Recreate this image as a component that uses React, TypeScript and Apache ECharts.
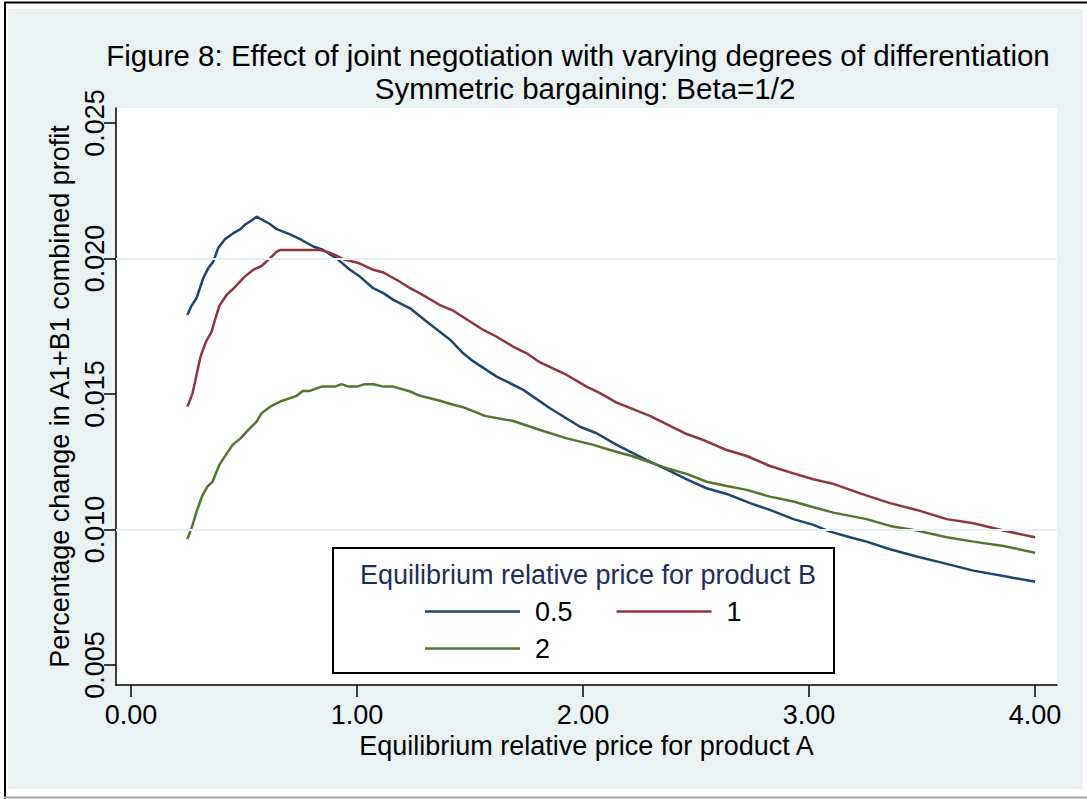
import React, { useEffect, useRef } from "react";
import * as echarts from "echarts";

const titleText = "Figure 8: Effect of joint negotiation with varying degrees of differentiation";
const subtitleText = "Symmetric bargaining: Beta=1/2";
const xAxisName = "Equilibrium relative price for product A";
const yAxisName = "Percentage change in A1+B1 combined profit";
const legendTitle = "Equilibrium relative price for product B";

const xTicks = [0, 1, 2, 3, 4];
const yTicks = [0.005, 0.01, 0.015, 0.02, 0.025];
const yGrid = [0.01, 0.015, 0.02];

const seriesNames = ["0.5", "1", "2"];

const xHalf = [0.25,0.268,0.29,0.32,0.342,0.364,0.386,0.416,0.453,0.485,0.504,0.534,0.556,0.615,0.645,0.704,0.755,0.807,0.851,0.91,0.969,1.013,1.072,1.117,1.161,1.235,1.308,1.412,1.47,1.515,1.618,1.736,1.854,1.987,2.06,2.149,2.282,2.37,2.459,2.547,2.636,2.739,2.827,2.931,3.019,3.093,3.181,3.255,3.358,3.476,3.609,3.727,3.86,4.0];
const yHalf = [0.01792,0.01825,0.01853,0.01927,0.01964,0.01988,0.02038,0.02071,0.02093,0.02108,0.02124,0.0214,0.02154,0.02127,0.02108,0.02089,0.02068,0.02044,0.02031,0.02,0.01958,0.01933,0.0189,0.01872,0.01847,0.01816,0.01767,0.017,0.0165,0.0162,0.01564,0.01515,0.01447,0.01379,0.01355,0.01312,0.01256,0.01222,0.01185,0.01152,0.01131,0.01097,0.01072,0.01038,0.01017,0.00992,0.00971,0.00955,0.00927,0.009,0.00873,0.00848,0.00828,0.00807];

const xOne = [0.25,0.273,0.29,0.308,0.332,0.357,0.372,0.391,0.423,0.46,0.5,0.541,0.578,0.615,0.645,0.659,0.836,0.866,0.903,0.94,0.984,1.013,1.072,1.117,1.19,1.235,1.279,1.367,1.426,1.559,1.618,1.692,1.751,1.81,1.928,2.016,2.075,2.149,2.296,2.459,2.532,2.636,2.724,2.827,2.931,3.019,3.108,3.226,3.358,3.476,3.609,3.727,3.86,4.0];
const yOne = [0.01453,0.01503,0.0157,0.01638,0.01693,0.0173,0.01773,0.01825,0.01865,0.01894,0.0193,0.01958,0.01972,0.02,0.02025,0.02031,0.02031,0.02025,0.02013,0.01997,0.01988,0.01981,0.01958,0.01948,0.01914,0.0189,0.01871,0.01828,0.01807,0.01736,0.01711,0.01674,0.0165,0.01616,0.0157,0.01527,0.01503,0.01468,0.01419,0.01352,0.0133,0.01293,0.01271,0.01234,0.01207,0.01185,0.01168,0.01133,0.01097,0.01072,0.01038,0.01023,0.00996,0.00971];

const xTwo = [0.25,0.273,0.293,0.317,0.338,0.361,0.391,0.42,0.45,0.485,0.512,0.556,0.578,0.622,0.667,0.733,0.76,0.792,0.844,0.903,0.932,0.962,1.0,1.035,1.072,1.117,1.161,1.235,1.279,1.367,1.426,1.47,1.566,1.692,1.81,1.928,2.046,2.12,2.223,2.37,2.459,2.547,2.636,2.724,2.827,2.931,3.019,3.108,3.255,3.358,3.476,3.609,3.727,3.86,4.0];
const yTwo = [0.00964,0.01017,0.01072,0.01127,0.01158,0.01176,0.01238,0.01275,0.01312,0.01336,0.01361,0.01398,0.01429,0.01456,0.01474,0.01493,0.01511,0.01511,0.01527,0.01527,0.01536,0.01527,0.01527,0.01536,0.01536,0.01527,0.01527,0.01509,0.01493,0.01475,0.0146,0.01451,0.01419,0.014,0.01367,0.01336,0.01312,0.01293,0.01269,0.01226,0.01205,0.01176,0.0116,0.01146,0.01121,0.01103,0.01082,0.01062,0.01038,0.01013,0.00996,0.00971,0.00955,0.00939,0.00914];

const colors = ["#1a476f", "#90353b", "#55752f"];
const FONT = "'Liberation Sans', Arial, sans-serif";

const zip = (xs: number[], ys: number[]) => xs.map((x, i) => [x, ys[i]]);

export default function App() {
  const ref = useRef<HTMLDivElement>(null);
  useEffect(() => {
    if (!ref.current) return;
    const chart = echarts.init(ref.current, null, { renderer: "svg" });
    const lineSeries = [zip(xHalf, yHalf), zip(xOne, yOne), zip(xTwo, yTwo)].map((d, i) => ({
      name: seriesNames[i],
      type: "line",
      data: d,
      showSymbol: false,
      symbol: "none",
      z: 3,
      lineStyle: { color: colors[i], width: 2.5 },
      itemStyle: { color: colors[i] },
    }));
    const legendBase = {
      icon: "rect",
      itemWidth: 95,
      itemHeight: 2.5,
      selectedMode: false,
      orient: "horizontal",
      textStyle: { fontFamily: FONT, fontSize: 27, color: "#000", padding: [0, 0, 0, 10] },
      z: 6,
    };
    const titleStyle = { fontFamily: FONT, fontSize: 29.5, lineHeight: 29, fontWeight: "normal", color: "#000" };
    chart.setOption({
      animation: false,
      backgroundColor: "#ffffff",
      title: [
        { text: titleText, left: 578, top: 41, padding: 0, textAlign: "center", textStyle: titleStyle },
        { text: subtitleText, left: 585, top: 74, padding: 0, textAlign: "center", textStyle: titleStyle },
      ],
      graphic: [
        { type: "rect", z: -10, silent: true, shape: { x: 8, y: 9, width: 1075, height: 780 }, style: { fill: "#eaf2f3" } },
        { type: "line", z: -9, silent: true, shape: { x1: 4, y1: 2.5, x2: 1087, y2: 2.5 }, style: { stroke: "#000", lineWidth: 2 } },
        { type: "line", z: -9, silent: true, shape: { x1: 5, y1: 2, x2: 5, y2: 799 }, style: { stroke: "#000", lineWidth: 2 } },
        { type: "line", z: -9, silent: true, shape: { x1: 4, y1: 797.5, x2: 1087, y2: 797.5 }, style: { stroke: "#a8a8a8", lineWidth: 2 } },
        { type: "rect", z: 5, silent: true, shape: { x: 333, y: 548, width: 501, height: 125 }, style: { fill: "#ffffff", stroke: "#000", lineWidth: 2 } },
        { type: "text", z: 6, silent: true, x: 588, y: 575, style: { text: legendTitle, fill: "#1c2e5c", font: `27px ${FONT}`, textAlign: "center", textVerticalAlign: "middle" } },
      ],
      legend: [
        { ...legendBase, data: ["0.5", "1"], left: 420, top: 593, itemGap: 44 },
        { ...legendBase, data: ["2"], left: 420, top: 630 },
      ],
      grid: { left: 116, right: 30, top: 108, bottom: 114, show: true, backgroundColor: "#ffffff", borderWidth: 0 },
      xAxis: {
        type: "value",
        min: -0.066,
        max: 4.097,
        name: xAxisName,
        nameLocation: "middle",
        nameGap: 41,
        nameTextStyle: { fontFamily: FONT, fontSize: 27, color: "#000" },
        axisLine: { show: true, onZero: false, lineStyle: { color: "#000", width: 1.5 } },
        axisTick: { show: true, length: 12, customValues: xTicks, lineStyle: { color: "#000", width: 1.5 } },
        axisLabel: { customValues: xTicks, margin: 16, fontFamily: FONT, fontSize: 27, color: "#000", formatter: (v: number) => v.toFixed(2) },
        splitLine: { show: false },
      },
      yAxis: {
        type: "value",
        min: 0.00426,
        max: 0.02555,
        name: yAxisName,
        nameLocation: "middle",
        nameGap: 42,
        nameTextStyle: { fontFamily: FONT, fontSize: 27, color: "#000" },
        axisLine: { show: true, onZero: false, lineStyle: { color: "#000", width: 1.5 } },
        axisTick: { show: true, length: 12, customValues: yTicks, lineStyle: { color: "#000", width: 1.5 } },
        axisLabel: { customValues: yTicks, rotate: 90, margin: 8, fontFamily: FONT, fontSize: 27, color: "#000", formatter: (v: number) => v.toFixed(3) },
        splitLine: { show: false },
      },
      series: [
        {
          name: "grid",
          type: "line",
          data: [],
          z: 1,
          silent: true,
          markLine: {
            silent: true,
            symbol: "none",
            label: { show: false },
            lineStyle: { color: "#e6eff1", width: 2, type: "solid" },
            data: yGrid.map((v) => ({ yAxis: v })),
          },
        },
        ...lineSeries,
      ],
    });
    return () => chart.dispose();
  }, []);
  return <div ref={ref} style={{ position: "absolute", left: 0, top: 0, width: 1087, height: 799 }} />;
}
